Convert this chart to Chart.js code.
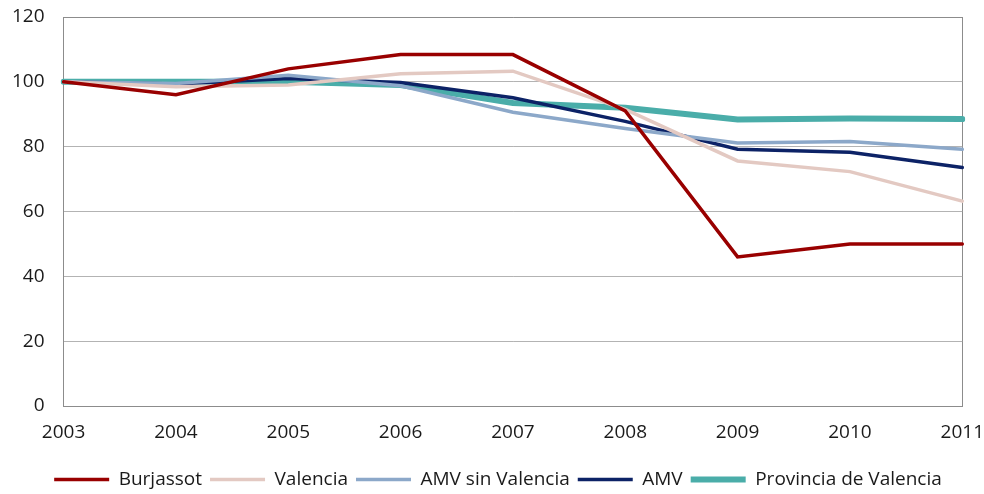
<!DOCTYPE html>
<html>
<head>
<meta charset="utf-8">
<script src="https://cdn.jsdelivr.net/npm/chart.js@4.4.1/dist/chart.umd.min.js"></script>
<style>
  html, body { margin: 0; padding: 0; background: #fff; }
  #wrap { width: 984px; height: 494px; }
</style>
</head>
<body>
<div id="wrap"><canvas id="js-chart-lines"></canvas></div>
<script>
// Chart data
const years = ['2003', '2004', '2005', '2006', '2007', '2008', '2009', '2010', '2011'];
const burjassot = [100, 96, 104, 108.4, 108.4, 91, 46, 50, 50];
const valencia = [100, 98.5, 99, 102.5, 103.3, 91.5, 75.6, 72.3, 63.2];
const amvSinValencia = [100, 99.5, 102, 98.8, 90.6, 85.6, 81.1, 81.6, 79.2];
const amv = [100, 99.3, 101, 99.8, 95.1, 87.8, 79.2, 78.3, 73.6];
const provincia = [100, 100, 100, 99, 93.5, 92, 88.4, 88.7, 88.5];
const yTicks = [0, 20, 40, 60, 80, 100, 120];

Chart.defaults.font.family = '"Open Sans", "Noto Sans", sans-serif';
Chart.defaults.font.size = 19;
Chart.defaults.color = '#1a1a1a';

function line(label, data, color, width) {
  return {
    label: label,
    data: data,
    borderColor: color,
    backgroundColor: color,
    borderWidth: width,
    borderCapStyle: 'round',
    pointRadius: 0,
    tension: 0,
    fill: false
  };
}

let chartCon = document.getElementById('js-chart-lines');

new Chart(chartCon, {
  type: 'line',
  data: {
    labels: years,
    datasets: [
      line('Burjassot', burjassot, '#990000', 3.5),
      line('Valencia', valencia, '#E3C9C2', 3.5),
      line('AMV sin Valencia', amvSinValencia, '#8CA8C9', 3.5),
      line('AMV', amv, '#0C2266', 3.5),
      line('Provincia de Valencia', provincia, '#4AADA9', 6)
    ]
  },
  options: {
    responsive: true,
    maintainAspectRatio: false,
    animation: false,
    layout: { padding: { left: 12, right: 0, top: 17, bottom: -5 } },
    scales: {
      x: {
        offset: false,
        afterFit: (axis) => { axis.height = 56; },
        grid: {
          drawTicks: true,
          tickLength: 15,
          tickColor: 'rgba(0,0,0,0)',
          color: (ctx) => (ctx.index === 0 || ctx.index === years.length - 1) ? '#8c8c8c' : 'rgba(0,0,0,0)',
          lineWidth: 1
        },
        border: { display: true, color: '#8c8c8c' },
        ticks: { padding: 0, maxRotation: 0, autoSkip: false }
      },
      y: {
        min: 0,
        max: 120,
        afterBuildTicks: (axis) => { axis.ticks = yTicks.map(v => ({ value: v })); },
        grid: {
          drawTicks: true,
          tickLength: 19,
          tickColor: 'rgba(0,0,0,0)',
          color: (ctx) => ctx.tick && ctx.tick.value === 120 ? '#8c8c8c' : '#b3b3b3'
        },
        border: { display: true, color: '#8c8c8c' },
        ticks: { padding: 0 }
      }
    },
    plugins: {
      legend: {
        position: 'bottom',
        labels: {
          usePointStyle: true,
          pointStyle: 'line',
          pointStyleWidth: 55,
          padding: 8,
          color: '#1a1a1a'
        }
      },
      tooltip: { enabled: false }
    }
  }
});
</script>
</body>
</html>
